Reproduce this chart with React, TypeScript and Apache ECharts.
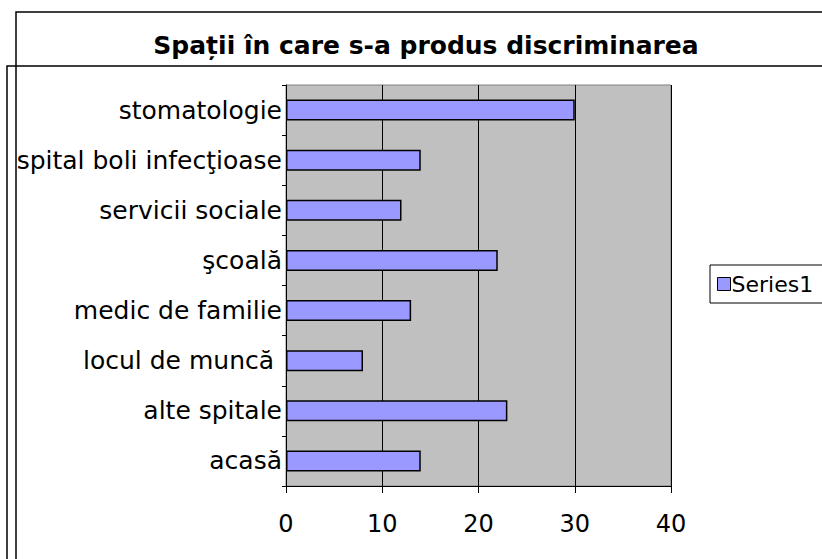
import React, { useEffect, useRef } from "react";
import * as echarts from "echarts";

const categories = [
  "acasă",
  "alte spitale",
  "locul de muncă ",
  "medic de familie",
  "şcoală",
  "servicii sociale",
  "spital boli infecţioase",
  "stomatologie",
];
const values = [14, 23, 8, 13, 22, 12, 14, 30];
const seriesName = "Series1";
const titleText = "Spații în care s-a produs discriminarea";
const xTicks = { min: 0, max: 40, interval: 10 };

const FONT = "'DejaVu Sans', sans-serif";

export default function App() {
  const ref = useRef<HTMLDivElement>(null);
  useEffect(() => {
    document.body.style.margin = "0";
    const chart = echarts.init(ref.current!, undefined, { renderer: "svg" });
    chart.setOption({
      animation: false,
      backgroundColor: "#ffffff",
      title: {
        text: titleText,
        left: 421,
        textAlign: "center",
        top: 28,
        textStyle: { fontFamily: FONT, fontSize: 25, fontWeight: "bold", color: "#000" },
      },
      graphic: [
        {
          type: "rect",
          shape: { x: 16, y: 12, width: 900, height: 700 },
          style: { fill: "none", stroke: "#000", lineWidth: 1.5 },
          z: 100,
        },
        {
          type: "rect",
          shape: { x: 7, y: 66, width: 900, height: 700 },
          style: { fill: "none", stroke: "#000", lineWidth: 1.5 },
          z: 100,
        },
      ],
      legend: {
        left: 710,
        top: 265,
        orient: "vertical",
        data: [seriesName],
        icon: "rect",
        itemWidth: 13,
        itemHeight: 13,
        itemGap: 4,
        padding: [8, 20, 8, 7],
        borderColor: "#000",
        borderWidth: 1,
        borderRadius: 0,
        textStyle: { fontFamily: FONT, fontSize: 22, color: "#000", padding: [0, 0, 0, -4] },
        itemStyle: { borderColor: "#000", borderWidth: 1 },
      },
      grid: {
        left: 286,
        top: 85,
        width: 385,
        height: 401,
        show: true,
        backgroundColor: "#c0c0c0",
        borderColor: "#808080",
        borderWidth: 1,
      },
      xAxis: {
        type: "value",
        min: xTicks.min,
        max: xTicks.max,
        interval: xTicks.interval,
        axisLine: { show: true, lineStyle: { color: "#000", width: 1 } },
        axisTick: { show: true, length: 7, lineStyle: { color: "#000" } },
        splitLine: { show: true, lineStyle: { color: "#000", width: 1 } },
        axisLabel: { fontFamily: FONT, fontSize: 24, color: "#000", margin: 26 },
      },
      yAxis: {
        type: "category",
        data: categories,
        axisLine: { show: true, lineStyle: { color: "#000", width: 1 } },
        axisTick: { show: true, length: 4, lineStyle: { color: "#000" } },
        axisLabel: { fontFamily: FONT, fontSize: 25, color: "#000", margin: 4 },
      },
      series: [
        {
          name: seriesName,
          type: "bar",
          data: values,
          barWidth: "42%",
          itemStyle: { color: "#9999ff", borderColor: "#000", borderWidth: 1.5 },
        },
      ],
    });
    return () => chart.dispose();
  }, []);
  return <div ref={ref} style={{ width: 822, height: 559 }} />;
}
